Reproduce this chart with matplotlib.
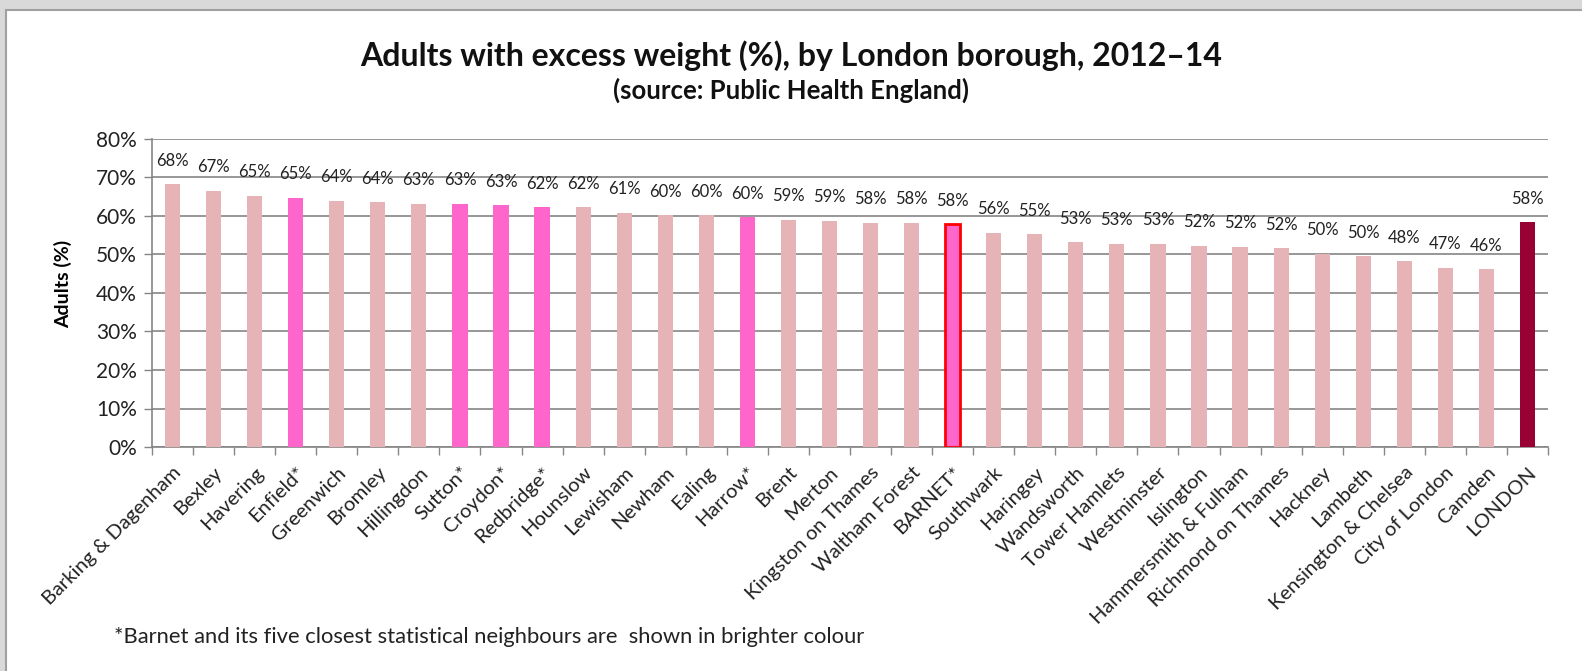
import matplotlib.pyplot as plt
from matplotlib.patches import Rectangle
import numpy as np

plt.rcParams['font.family'] = ['Lato', 'DejaVu Sans']

# Data
boroughs = ['Barking & Dagenham', 'Bexley', 'Havering', 'Enfield*', 'Greenwich',
            'Bromley', 'Hillingdon', 'Sutton*', 'Croydon*', 'Redbridge*', 'Hounslow',
            'Lewisham', 'Newham', 'Ealing', 'Harrow*', 'Brent', 'Merton',
            'Kingston on Thames', 'Waltham Forest', 'BARNET*', 'Southwark', 'Haringey',
            'Wandsworth', 'Tower Hamlets', 'Westminster', 'Islington',
            'Hammersmith & Fulham', 'Richmond on Thames', 'Hackney', 'Lambeth',
            'Kensington & Chelsea', 'City of London', 'Camden', 'LONDON']
excess_weight = [68.2, 66.6, 65.3, 64.8, 64.0, 63.6, 63.2, 63.2, 62.8, 62.3, 62.3,
                 60.8, 60.2, 60.2, 59.7, 59.0, 58.8, 58.2, 58.2, 57.8, 55.6, 55.2,
                 53.2, 52.8, 52.7, 52.3, 52.0, 51.6, 50.2, 49.5, 48.2, 46.6, 46.2, 58.4]
neighbours = ['Enfield*', 'Sutton*', 'Croydon*', 'Redbridge*', 'Harrow*']

LIGHT = '#E6B3B7'
BRIGHT = '#FF66CC'
DARK = '#990033'

colors = []
edges = []
for b in boroughs:
    if b == 'LONDON':
        colors.append(DARK)
        edges.append(DARK)
    elif b == 'BARNET*':
        colors.append(BRIGHT)
        edges.append('#FF0000')
    elif b in neighbours:
        colors.append(BRIGHT)
        edges.append(BRIGHT)
    else:
        colors.append(LIGHT)
        edges.append(LIGHT)

fig = plt.figure(figsize=(15.82, 6.71), dpi=100)
fig.patch.set_facecolor('white')

# grey surround with the white chart area
fig.patches.append(Rectangle((0, 0), 1, 1, transform=fig.transFigure,
                             facecolor='#D9D9D9', edgecolor='none', zorder=-10))
fig.patches.append(Rectangle((6.5 / 1582, -0.01), 1.02, 1 - 9.5 / 671 + 0.01,
                             transform=fig.transFigure, facecolor='white',
                             edgecolor='#A0A0A0', linewidth=1.5, zorder=-9))

ax = fig.add_axes([152 / 1582, 1 - 447 / 671, (1548 - 152) / 1582, (447 - 139) / 671])
ax.set_facecolor('white')

x = np.arange(len(boroughs))
lw = [2 if b == 'BARNET*' else 0 for b in boroughs]
ax.bar(x, excess_weight, width=0.37, color=colors, edgecolor=edges, linewidth=lw, zorder=3)

for xi, v in zip(x, excess_weight):
    ax.annotate(f'{round(v):.0f}%', (xi, v), xytext=(0, 17), textcoords='offset points',
                ha='center', va='center', fontsize=12, color='#222222', zorder=4)

ax.set_xlim(-0.5, len(boroughs) - 0.5)
ax.set_ylim(0, 80)
ax.set_yticks(range(0, 81, 10))
ax.set_yticklabels([f'{t}%' for t in range(0, 81, 10)], fontsize=15, color='#222222')
ax.yaxis.grid(True, color='#858585', linewidth=1.2, zorder=0)
ax.tick_params(axis='y', length=6, width=1, color='#858585', pad=5)

ax.set_xticks(x)
ax.set_xticklabels(boroughs, rotation=45, ha='right', rotation_mode='anchor',
                   fontsize=14.5, color='#222222')
ax.tick_params(axis='x', length=0, pad=12)
ax.set_xticks(np.arange(-0.5, len(boroughs)), minor=True)
ax.tick_params(axis='x', which='minor', length=6, width=1, color='#858585')

for s in ['top', 'right']:
    ax.spines[s].set_visible(False)
for s in ['left', 'bottom']:
    ax.spines[s].set_color('#858585')
    ax.spines[s].set_linewidth(1.2)

ax.set_ylabel('Adults (%)', fontsize=14, fontweight='bold')
ax.yaxis.set_label_coords(-0.057, 0.53)

fig.text(0.5, 1 - 56 / 671, 'Adults with excess weight (%), by London borough, 2012\u201314',
         ha='center', va='center', fontsize=23, fontweight='bold', color='#111111')
fig.text(0.5, 1 - 90 / 671, '(source: Public Health England)',
         ha='center', va='center', fontsize=18.5, fontweight='bold', color='#111111')
fig.text(114 / 1582, 1 - 637 / 671,
         '*Barnet and its five closest statistical neighbours are  shown in brighter colour',
         ha='left', va='center', fontsize=15.8, color='#222222')

fig.savefig('out.png', dpi=100)
